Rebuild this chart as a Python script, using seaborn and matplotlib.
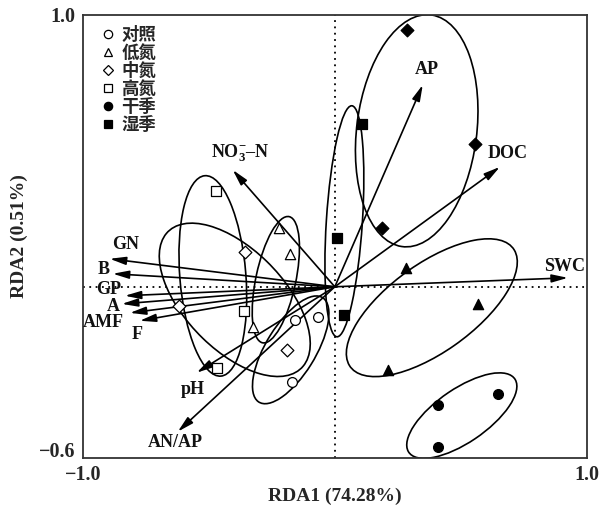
import numpy as np
import pandas as pd
import matplotlib
matplotlib.use("Agg")
import matplotlib.pyplot as plt
import seaborn as sns
from matplotlib.patches import Ellipse
from matplotlib.lines import Line2D

# sample scores (RDA1, RDA2)
ctrl_x  = [-0.159, -0.067, -0.171]
ctrl_y  = [-0.121, -0.110, -0.349]
lowN_x  = [-0.222, -0.179, -0.325]
lowN_y  = [0.217, 0.121, -0.147]
midN_x  = [-0.357, -0.619, -0.190]
midN_y  = [0.129, -0.070, -0.232]
highN_x = [-0.472, -0.361, -0.468]
highN_y = [0.353, -0.088, -0.298]
dry_x   = [0.409, 0.647, 0.409]
dry_y   = [-0.434, -0.393, -0.588]
wet_x   = [0.107, 0.008, 0.036]
wet_y   = [0.599, 0.180, -0.103]
lowN_wet_x = [0.282, 0.567, 0.210]
lowN_wet_y = [0.070, -0.063, -0.305]
midN_wet_x = [0.286, 0.556, 0.187]
midN_wet_y = [0.945, 0.526, 0.217]

# environmental vectors
env_names = ["NO$_3^{-}$\u2013N", "GN", "B", "GP", "A", "AMF", "F",
             "pH", "AN/AP", "AP", "DOC", "SWC"]
env_x = [-0.405, -0.893, -0.881, -0.833, -0.845, -0.813, -0.774,
         -0.548, -0.623, 0.349, 0.655, 0.925]
env_y = [0.430, 0.103, 0.048, -0.033, -0.063, -0.096, -0.125,
         -0.316, -0.533, 0.743, 0.441, 0.033]

# group ellipses: centre x, centre y, width, height, angle
ell_cx = [0.325, 0.038, 0.385, 0.504, -0.175, -0.234, -0.397, -0.484]
ell_cy = [0.574, 0.241, -0.077, -0.474, -0.232, 0.026, -0.048, 0.040]
ell_w  = [0.86, 0.852, 0.78, 0.50, 0.46, 0.476, 0.73, 0.74]
ell_h  = [0.476, 0.143, 0.33, 0.20, 0.194, 0.158, 0.38, 0.262]
ell_a  = [82, 86, 33, 32, 56, 77, -42, 95]

legend_names = ["对照", "低氮", "中氮", "高氮", "干季", "湿季"]

groups = [
    ("对照", ctrl_x, ctrl_y, "o", "white"),
    ("低氮", lowN_x, lowN_y, "^", "white"),
    ("中氮", midN_x, midN_y, "D", "white"),
    ("高氮", highN_x, highN_y, "s", "white"),
    ("干季", dry_x, dry_y, "o", "black"),
    ("湿季", wet_x, wet_y, "s", "black"),
    ("低氮湿季", lowN_wet_x, lowN_wet_y, "^", "black"),
    ("中氮湿季", midN_wet_x, midN_wet_y, "D", "black"),
]

# label placement relative to vector tips (offsets in data units)
label_dx = [0.028, 0.064, -0.036, -0.064, -0.032, -0.104, -0.012,
            -0.015, -0.008, 0.016, 0.032, -0.012]
label_dy = [0.063, 0.051, 0.015, 0.024, -0.008, -0.036, -0.051,
            -0.063, -0.041, 0.055, 0.048, 0.041]

sns.set_theme(style="white")
plt.rcParams["font.family"] = ["Liberation Serif", "Noto Sans CJK SC"]
plt.rcParams["mathtext.fontset"] = "custom"
plt.rcParams["mathtext.rm"] = "Liberation Serif:bold"
plt.rcParams["mathtext.bf"] = "Liberation Serif:bold"
plt.rcParams["mathtext.it"] = "Liberation Serif:bold:italic"

fig = plt.figure(figsize=(6.0, 5.08), dpi=100)
ax = fig.add_axes([0.138, 0.0984, 0.840, 0.8721])

ax.axhline(0, color="black", linestyle=(0, (1, 2.5)), linewidth=1.3, zorder=1)
ax.axvline(0, color="black", linestyle=(0, (1, 2.5)), linewidth=1.3, zorder=1)

for cx, cy, w, h, a in zip(ell_cx, ell_cy, ell_w, ell_h, ell_a):
    ax.add_patch(Ellipse((cx, cy), w, h, angle=a, fill=False,
                         edgecolor="black", linewidth=1.2, zorder=2))

for x, y, name, dx, dy in zip(env_x, env_y, env_names, label_dx, label_dy):
    ax.annotate("", xy=(x, y), xytext=(0, 0),
                arrowprops=dict(arrowstyle="-|>,head_length=0.8,head_width=0.2",
                                color="black", lw=1.2, shrinkA=0, shrinkB=0),
                zorder=3)
    ax.text(x + dx, y + dy, name, ha="center", va="center",
            fontsize=13, fontweight="bold", color="#111111", zorder=4)

for name, xs, ys, mk, fc in groups:
    df = pd.DataFrame({"RDA1": xs, "RDA2": ys})
    size = 55 if mk == "^" else (42 if mk == "D" else 50)
    sns.scatterplot(data=df, x="RDA1", y="RDA2", marker=mk, s=size,
                    color=fc, edgecolor="black", linewidth=0.9,
                    ax=ax, zorder=5, legend=False)

handles = []
for name, xs, ys, mk, fc in groups[:6]:
    handles.append(Line2D([], [], linestyle="none", marker=mk,
                          markerfacecolor=fc, markeredgecolor="black",
                          markersize=6 if mk != "D" else 5.5, markeredgewidth=0.9))
leg = ax.legend(handles, legend_names, loc="upper left",
                bbox_to_anchor=(0.013, 1.0), frameon=False,
                handlelength=0.8, handletextpad=0.4, labelspacing=0.0,
                borderaxespad=0.25, prop={"family": "Noto Sans CJK SC",
                                          "weight": "bold", "size": 12.5})

ax.set_xlim(-1.0, 1.0)
ax.set_ylim(-0.63, 1.0)
ax.set_xticks([-1.0, 1.0])
ax.set_yticks([-0.6, 1.0])
ax.set_xticklabels(["\u22121.0", "1.0"])
ax.set_yticklabels(["\u22120.6", "1.0"])
ax.tick_params(direction="in", length=4, width=1, color="#333333",
               labelsize=14.5, pad=5)
for lab in ax.get_xticklabels() + ax.get_yticklabels():
    lab.set_fontweight("bold")

for sp in ax.spines.values():
    sp.set_color("#333333")
    sp.set_linewidth(1.3)

ax.set_xlabel("RDA1 (74.28%)", fontsize=14, fontweight="bold", labelpad=2)
ax.set_ylabel("RDA2 (0.51%)", fontsize=14, fontweight="bold", labelpad=8)

fig.savefig("out.png", dpi=100)
